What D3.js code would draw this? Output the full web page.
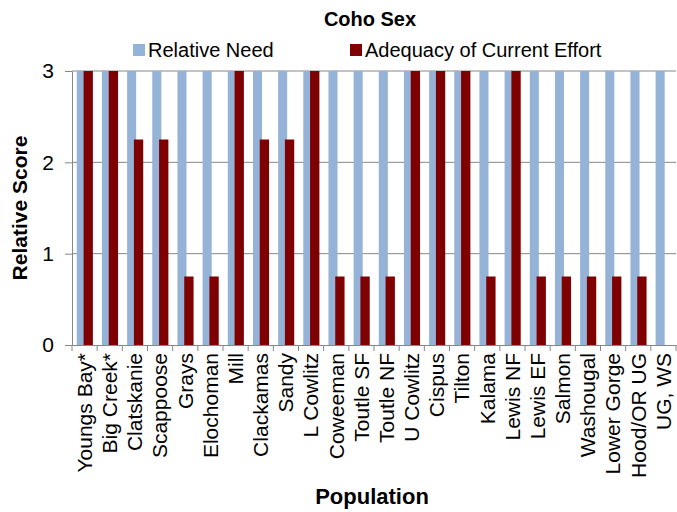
<!DOCTYPE html>
<html>
<head>
<meta charset="utf-8">
<script src="https://cdn.jsdelivr.net/npm/d3@7"></script>
<style>
  html, body { margin: 0; padding: 0; background: #fff; }
  svg { display: block; font-family: "Liberation Sans", Arial, sans-serif; }
</style>
</head>
<body>
<svg id="chart" width="677" height="512"></svg>
<script>
const categories = ["Youngs Bay*", "Big Creek*", "Clatskanie", "Scappoose", "Grays", "Elochoman", "Mill",
  "Clackamas", "Sandy", "L Cowlitz", "Coweeman", "Toutle SF", "Toutle NF", "U Cowlitz", "Cispus", "Tilton",
  "Kalama", "Lewis NF", "Lewis EF", "Salmon", "Washougal", "Lower Gorge", "Hood/OR UG", "UG, WS"];
const relativeNeed = [3, 3, 3, 3, 3, 3, 3, 3, 3, 3, 3, 3, 3, 3, 3, 3, 3, 3, 3, 3, 3, 3, 3, 3];
const adequacy = [3, 3, 2.25, 2.25, 0.75, 0.75, 3, 2.25, 2.25, 3, 0.75, 0.75, 0.75, 3, 3, 3, 0.75, 3, 0.75, 0.75, 0.75, 0.75, 0.75, 0];
const yTicks = [0, 1, 2, 3];
const seriesNames = ["Relative Need", "Adequacy of Current Effort"];
const colors = ["#95B3D7", "#7F0000"];

(function () {
const svg = d3.select("#chart");
const pLeft = 72, pRight = 676, pTop = 71, pBottom = 345;

const x = d3.scaleBand().domain(categories).range([pLeft, pRight]).padding(0);
const y = d3.scaleLinear().domain([0, 3]).range([pBottom, pTop]);
const bw = x.bandwidth();

// gridlines
svg.append("g").selectAll("line").data(yTicks.filter(d => d > 0)).join("line")
  .attr("x1", pLeft).attr("x2", pRight)
  .attr("y1", d => y(d)).attr("y2", d => y(d))
  .attr("stroke", "#868686").attr("stroke-width", 1);

// bars
svg.append("g").selectAll("rect").data(categories).join("rect")
  .attr("x", d => x(d) + 0.19 * bw)
  .attr("width", 0.36 * bw)
  .attr("y", (d, i) => y(relativeNeed[i]))
  .attr("height", (d, i) => y(0) - y(relativeNeed[i]))
  .attr("fill", colors[0]);

svg.append("g").selectAll("rect").data(categories).join("rect")
  .attr("x", d => x(d) + 0.46 * bw)
  .attr("width", 0.37 * bw)
  .attr("y", (d, i) => y(adequacy[i]))
  .attr("height", (d, i) => y(0) - y(adequacy[i]))
  .attr("fill", colors[1]);

// y axis
const yAxis = svg.append("g").attr("transform", `translate(${pLeft},0)`)
  .call(d3.axisLeft(y).tickValues(yTicks).tickFormat(d3.format("d")).tickSize(7).tickSizeOuter(0).tickPadding(11));
yAxis.select(".domain").attr("stroke", "#868686");
yAxis.selectAll(".tick line").attr("stroke", "#868686");
yAxis.selectAll("text").attr("font-size", 21).attr("fill", "#000")
  .attr("font-family", "Liberation Sans, Arial, sans-serif");

// x axis
const xAxis = svg.append("g").attr("transform", `translate(0,${pBottom})`)
  .call(d3.axisBottom(x).tickSize(0).tickSizeOuter(0).tickFormat(""));
xAxis.select(".domain").attr("stroke", "#868686");
// boundary ticks between categories
svg.append("g").selectAll("line").data(d3.range(categories.length + 1)).join("line")
  .attr("x1", i => pLeft + i * bw).attr("x2", i => pLeft + i * bw)
  .attr("y1", pBottom).attr("y2", pBottom + 6)
  .attr("stroke", "#868686");

// x labels rotated
svg.append("g").selectAll("text").data(categories).join("text")
  .attr("transform", d => `translate(${x(d) + bw / 2},${pBottom + 8}) rotate(-90)`)
  .attr("text-anchor", "end")
  .attr("dy", "0.35em")
  .attr("font-size", 21)
  .attr("fill", "#000")
  .text(d => d);

// title
svg.append("text").attr("x", 370).attr("y", 26).attr("text-anchor", "middle")
  .attr("font-size", 20).attr("font-weight", "bold").text("Coho Sex");

// axis titles
svg.append("text").attr("x", 372).attr("y", 504).attr("text-anchor", "middle")
  .attr("font-size", 22).attr("font-weight", "bold").text("Population");
svg.append("text").attr("transform", `translate(27,${(pTop + pBottom) / 2}) rotate(-90)`)
  .attr("text-anchor", "middle").attr("font-size", 21).attr("font-weight", "bold").text("Relative Score");

// legend
const legendX = [133, 350];
const lg = svg.append("g").selectAll("g").data(seriesNames).join("g")
  .attr("transform", (d, i) => `translate(${legendX[i]},44)`);
lg.append("rect").attr("width", 12).attr("height", 12).attr("fill", (d, i) => colors[i]);
lg.append("text").attr("x", 15).attr("y", 13).attr("font-size", 20).text(d => d);
})();
</script>
</body>
</html>
